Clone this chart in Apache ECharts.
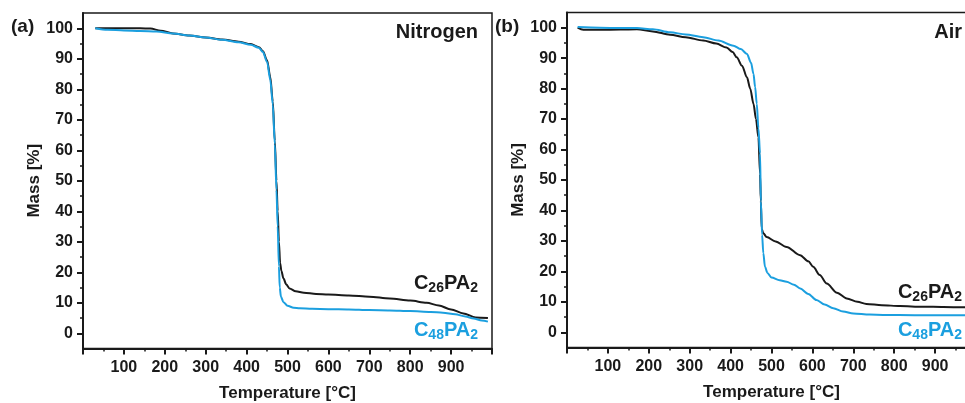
<!DOCTYPE html>
<html>
<head>
<meta charset="utf-8">
<title>TGA</title>
<script src="https://cdn.jsdelivr.net/npm/echarts@6/dist/echarts.min.js"></script>
<style>
html, body { margin: 0; padding: 0; background: #fff; }
#main { width: 965px; height: 403px; }
</style>
</head>
<body>
<div id="main"></div>
<script>
// Nitrogen, C26PA2
var n2Temp26 = [30, 60, 100, 140, 165, 190, 220, 260, 300, 340, 380, 410, 430, 440, 450, 458, 464, 469, 473, 476, 479, 482, 485, 490, 497, 505, 520, 540, 570, 600, 650, 700, 750, 800, 840, 870, 900, 930, 960, 990];
var n2Mass26 = [100, 100, 100, 100, 99.9, 99.2, 98.3, 97.6, 97, 96.3, 95.6, 94.8, 93.8, 92.5, 89.5, 84, 76, 63, 50, 40, 30, 23, 20.5, 18, 16, 14.7, 13.8, 13.3, 12.9, 12.7, 12.4, 12, 11.4, 10.7, 10, 9.1, 7.8, 6.5, 5.2, 5];
// Nitrogen, C48PA2
var n2Temp48 = [30, 60, 100, 140, 180, 220, 260, 300, 340, 380, 410, 430, 440, 450, 458, 464, 469, 473, 476, 479, 481, 484, 490, 500, 515, 530, 560, 600, 650, 700, 750, 800, 850, 880, 910, 935, 955, 975, 990];
var n2Mass48 = [100, 99.5, 99.3, 99.1, 98.9, 98.3, 97.6, 97, 96.2, 95.4, 94.6, 93.6, 92.2, 89, 83, 75, 62, 47, 35, 22, 15, 12, 10.2, 9, 8.4, 8.2, 8, 7.9, 7.8, 7.6, 7.5, 7.3, 7, 6.7, 6.2, 5.5, 4.8, 4.2, 3.8];
// Air, C26PA2
var airTemp26 = [26, 40, 80, 130, 171, 210, 252, 290, 333, 365, 390, 405, 415, 428, 440, 448, 456, 462, 468, 472, 474, 476, 480, 488, 510, 537, 570, 590, 602, 618, 635, 660, 684, 710, 732, 770, 814, 870, 920, 970, 1000];
var airMass26 = [100, 99.3, 99.3, 99.4, 99.5, 98.8, 97.7, 96.9, 95.8, 94.8, 93.5, 92, 90.3, 87.5, 83.7, 80, 75, 70, 64, 52, 43, 34, 32.5, 31.3, 29.8, 28, 25.3, 23.3, 21.5, 18.8, 16, 13, 11.1, 10, 9.3, 8.9, 8.6, 8.4, 8.3, 8.2, 8.2];
// Air, C48PA2
var airTemp48 = [26, 80, 130, 171, 210, 252, 290, 333, 370, 407, 425, 440, 450, 456, 460, 464, 468, 472, 474, 477, 480, 484, 490, 500, 520, 537, 555, 570, 590, 610, 630, 651, 675, 700, 740, 773, 850, 970, 1000];
var airMass48 = [100.2, 100, 99.9, 99.9, 99.5, 98.5, 97.8, 96.9, 95.8, 94.1, 93, 91.4, 88.5, 84.8, 80.5, 75, 67, 58.7, 43, 32, 26, 21.5, 19.5, 18, 17.1, 16.6, 15.6, 14.4, 12.6, 10.6, 9.1, 7.9, 6.8, 6.2, 5.8, 5.7, 5.6, 5.6, 5.6];

var yMajorTicks = [0, 10, 20, 30, 40, 50, 60, 70, 80, 90, 100];
var yMinorTicks = [5, 15, 25, 35, 45, 55, 65, 75, 85, 95];
var panelNames = ['Nitrogen', 'Air'];
var panelTags = ['(a)', '(b)'];

var BLACK = '#1a1a1a';
var BLUE = '#1b9fdf';
var FONT = '"Liberation Sans", Arial, sans-serif';

function pairs(xs, ys) {
	var out = [];
	for (var i = 0; i < xs.length; i++) {
		out.push([xs[i], ys[i]]);
	}
	return out;
}

function xAxisOf(idx) {
	return {
		type: 'value', gridIndex: idx, min: 0, max: 1000, interval: 100,
		name: 'Temperature [°C]', nameLocation: 'middle', nameGap: 36,
		nameTextStyle: { color: BLACK, fontFamily: FONT, fontWeight: 'bold', fontSize: 17 },
		axisLine: { show: true, onZero: false, lineStyle: { color: BLACK, width: 2 } },
		axisTick: { show: true, inside: false, length: 6, lineStyle: { color: BLACK, width: 2 } },
		minorTick: { show: true, splitNumber: 2, length: 3, lineStyle: { color: BLACK, width: 1.5 } },
		axisLabel: { showMinLabel: false, showMaxLabel: false, margin: 11, color: BLACK, fontFamily: FONT, fontWeight: 'bold', fontSize: 16 },
		splitLine: { show: false }
	};
}

function yAxisMajor(idx) {
	return {
		type: 'value', gridIndex: idx, min: -5, max: 105,
		name: 'Mass [%]', nameLocation: 'middle', nameGap: 37,
		nameTextStyle: { color: BLACK, fontFamily: FONT, fontWeight: 'bold', fontSize: 17 },
		axisLine: { show: true, onZero: false, lineStyle: { color: BLACK, width: 2 } },
		axisTick: { show: true, inside: false, length: 6, customValues: yMajorTicks, lineStyle: { color: BLACK, width: 2 } },
		axisLabel: { customValues: yMajorTicks, margin: 10, color: BLACK, fontFamily: FONT, fontWeight: 'bold', fontSize: 16 },
		splitLine: { show: false }
	};
}

function yAxisMinor(idx) {
	return {
		type: 'value', gridIndex: idx, min: -5, max: 105, position: 'left',
		axisLine: { show: false, onZero: false },
		axisTick: { show: true, inside: false, length: 3, customValues: yMinorTicks, lineStyle: { color: BLACK, width: 1.5 } },
		axisLabel: { show: false },
		splitLine: { show: false }
	};
}

function lineSeries(name, color, xi, yi, data) {
	return {
		name: name, type: 'line', xAxisIndex: xi, yAxisIndex: yi,
		data: data, showSymbol: false, smooth: 0.3, smoothMonotone: 'x',
		lineStyle: { color: color, width: 2 }, z: 3
	};
}

// 化学式文本 C26PA2 / C48PA2
function formula(x, y, sub, color) {
	var big = { fontFamily: FONT, fontWeight: 'bold', fontSize: 20, lineHeight: 20, fill: color };
	var small = { fontFamily: FONT, fontWeight: 'bold', fontSize: 14, lineHeight: 14, fill: color, padding: [11, 0, 0, 0] };
	return {
		type: 'text', x: x, y: y, z: 10,
		style: {
			text: '{m|C}{s|' + sub + '}{m|PA}{s|2}',
			align: 'right', verticalAlign: 'middle',
			rich: { m: big, s: small }
		}
	};
}

function label(x, y, text, align, size) {
	return {
		type: 'text', x: x, y: y, z: 10,
		style: { text: text, align: align, verticalAlign: 'middle', fill: BLACK, fontFamily: FONT, fontWeight: 'bold', fontSize: size }
	};
}

var myChart = echarts.init(document.getElementById('main'), null, { renderer: 'canvas' });

var option = {
	animation: false,
	backgroundColor: '#fff',
	grid: [
		{ left: 83, right: 473, top: 13, bottom: 54.5, show: true, borderColor: BLACK, borderWidth: 1.5, backgroundColor: 'transparent', outerBoundsMode: 'none' },
		{ left: 567, right: -11, top: 12.5, bottom: 55.5, show: true, borderColor: BLACK, borderWidth: 1.5, backgroundColor: 'transparent', outerBoundsMode: 'none' }
	],
	xAxis: [xAxisOf(0), xAxisOf(1)],
	yAxis: [yAxisMajor(0), yAxisMinor(0), yAxisMajor(1), yAxisMinor(1)],
	series: [
		lineSeries('N2 C26PA2', BLACK, 0, 0, pairs(n2Temp26, n2Mass26)),
		lineSeries('N2 C48PA2', BLUE, 0, 0, pairs(n2Temp48, n2Mass48)),
		lineSeries('Air C26PA2', BLACK, 1, 2, pairs(airTemp26, airMass26)),
		lineSeries('Air C48PA2', BLUE, 1, 2, pairs(airTemp48, airMass48))
	],
	graphic: [
		label(11, 27, panelTags[0], 'left', 19),
		label(495, 27, panelTags[1], 'left', 19),
		label(478, 32, panelNames[0], 'right', 20),
		label(962, 32, panelNames[1], 'right', 20),
		formula(478, 283, '26', BLACK),
		formula(478, 330, '48', BLUE),
		formula(962, 292, '26', BLACK),
		formula(962, 330, '48', BLUE)
	]
};

myChart.setOption(option);
</script>
</body>
</html>
